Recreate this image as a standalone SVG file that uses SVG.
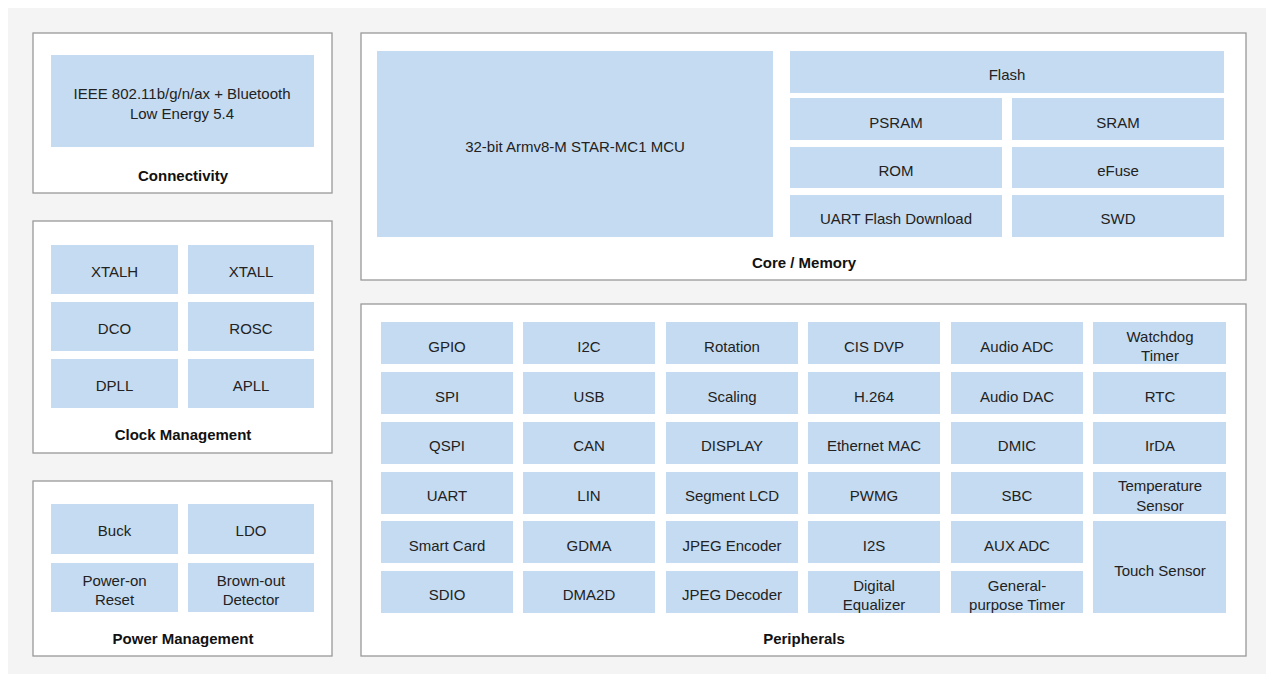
<svg xmlns="http://www.w3.org/2000/svg" width="1274" height="682" viewBox="0 0 1274 682">
<style>
.g{fill:#fff;stroke:#999;stroke-width:1.3}
.b{fill:#c5dbf1}
text{font-family:"Liberation Sans",Arial,sans-serif;font-size:15px;fill:#222;text-anchor:middle;dominant-baseline:central}
.t{font-weight:bold;fill:#111}
</style>
<rect width="1274" height="682" fill="#fff"/>
<rect x="8" y="8" width="1258" height="666" fill="#f4f4f4"/>
<g id="connectivity"><rect class="g" x="33" y="33" width="299" height="160"/>
<rect class="b" x="51" y="55" width="263" height="92"/>
<text x="182" y="93">IEEE 802.11b/g/n/ax + Bluetooth</text><text x="182" y="113">Low Energy 5.4</text>
<text class="t" x="183" y="175">Connectivity</text></g>
<g id="clock"><rect class="g" x="33" y="221" width="299" height="232"/>
<rect class="b" x="51" y="245" width="127" height="49"/><text x="114.5" y="271">XTALH</text>
<rect class="b" x="188" y="245" width="126" height="49"/><text x="251" y="271">XTALL</text>
<rect class="b" x="51" y="302" width="127" height="49"/><text x="114.5" y="328">DCO</text>
<rect class="b" x="188" y="302" width="126" height="49"/><text x="251" y="328">ROSC</text>
<rect class="b" x="51" y="359" width="127" height="49"/><text x="114.5" y="385">DPLL</text>
<rect class="b" x="188" y="359" width="126" height="49"/><text x="251" y="385">APLL</text>
<text class="t" x="183" y="434">Clock Management</text></g>
<g id="power"><rect class="g" x="33" y="481" width="299" height="175"/>
<rect class="b" x="51" y="504" width="127" height="50"/><text x="114.5" y="530">Buck</text>
<rect class="b" x="188" y="504" width="126" height="50"/><text x="251" y="530">LDO</text>
<rect class="b" x="51" y="563" width="127" height="49"/><text x="114.5" y="580">Power-on</text><text x="114.5" y="599">Reset</text>
<rect class="b" x="188" y="563" width="126" height="49"/><text x="251" y="580">Brown-out</text><text x="251" y="599">Detector</text>
<text class="t" x="183" y="638">Power Management</text></g>
<g id="core"><rect class="g" x="361" y="33" width="885" height="247"/>
<rect class="b" x="377" y="51" width="396" height="186"/><text x="575" y="146">32-bit Armv8-M STAR-MC1 MCU</text>
<rect class="b" x="790" y="51" width="434" height="42"/><text x="1007" y="74">Flash</text>
<rect class="b" x="790" y="98" width="212" height="42"/><text x="896" y="122">PSRAM</text>
<rect class="b" x="1012" y="98" width="212" height="42"/><text x="1118" y="122">SRAM</text>
<rect class="b" x="790" y="147" width="212" height="41"/><text x="896" y="170">ROM</text>
<rect class="b" x="1012" y="147" width="212" height="41"/><text x="1118" y="170">eFuse</text>
<rect class="b" x="790" y="195" width="212" height="42"/><text x="896" y="218">UART Flash Download</text>
<rect class="b" x="1012" y="195" width="212" height="42"/><text x="1118" y="218">SWD</text>
<text class="t" x="804" y="262">Core / Memory</text></g>
<g id="peripherals"><rect class="g" x="361" y="304" width="885" height="352"/>
<g>
<rect class="b" x="381" y="322" width="132" height="42"/><text x="447" y="346">GPIO</text>
<rect class="b" x="523" y="322" width="132" height="42"/><text x="589" y="346">I2C</text>
<rect class="b" x="666" y="322" width="132" height="42"/><text x="732" y="346">Rotation</text>
<rect class="b" x="808" y="322" width="132" height="42"/><text x="874" y="346">CIS DVP</text>
<rect class="b" x="951" y="322" width="132" height="42"/><text x="1017" y="346">Audio ADC</text>
<rect class="b" x="1093" y="322" width="133" height="42"/><text x="1160" y="336">Watchdog</text><text x="1160" y="355">Timer</text>
<rect class="b" x="381" y="372" width="132" height="42"/><text x="447" y="396">SPI</text>
<rect class="b" x="523" y="372" width="132" height="42"/><text x="589" y="396">USB</text>
<rect class="b" x="666" y="372" width="132" height="42"/><text x="732" y="396">Scaling</text>
<rect class="b" x="808" y="372" width="132" height="42"/><text x="874" y="396">H.264</text>
<rect class="b" x="951" y="372" width="132" height="42"/><text x="1017" y="396">Audio DAC</text>
<rect class="b" x="1093" y="372" width="133" height="42"/><text x="1160" y="396">RTC</text>
<rect class="b" x="381" y="422" width="132" height="42"/><text x="447" y="445">QSPI</text>
<rect class="b" x="523" y="422" width="132" height="42"/><text x="589" y="445">CAN</text>
<rect class="b" x="666" y="422" width="132" height="42"/><text x="732" y="445">DISPLAY</text>
<rect class="b" x="808" y="422" width="132" height="42"/><text x="874" y="445">Ethernet MAC</text>
<rect class="b" x="951" y="422" width="132" height="42"/><text x="1017" y="445">DMIC</text>
<rect class="b" x="1093" y="422" width="133" height="42"/><text x="1160" y="445">IrDA</text>
<rect class="b" x="381" y="472" width="132" height="42"/><text x="447" y="495">UART</text>
<rect class="b" x="523" y="472" width="132" height="42"/><text x="589" y="495">LIN</text>
<rect class="b" x="666" y="472" width="132" height="42"/><text x="732" y="495">Segment LCD</text>
<rect class="b" x="808" y="472" width="132" height="42"/><text x="874" y="495">PWMG</text>
<rect class="b" x="951" y="472" width="132" height="42"/><text x="1017" y="495">SBC</text>
<rect class="b" x="1093" y="472" width="133" height="42"/><text x="1160" y="485">Temperature</text><text x="1160" y="505">Sensor</text>
<rect class="b" x="381" y="521" width="132" height="42"/><text x="447" y="545">Smart Card</text>
<rect class="b" x="523" y="521" width="132" height="42"/><text x="589" y="545">GDMA</text>
<rect class="b" x="666" y="521" width="132" height="42"/><text x="732" y="545">JPEG Encoder</text>
<rect class="b" x="808" y="521" width="132" height="42"/><text x="874" y="545">I2S</text>
<rect class="b" x="951" y="521" width="132" height="42"/><text x="1017" y="545">AUX ADC</text>
<rect class="b" x="1093" y="521" width="133" height="92"/><text x="1160" y="570">Touch Sensor</text>
<rect class="b" x="381" y="571" width="132" height="42"/><text x="447" y="594">SDIO</text>
<rect class="b" x="523" y="571" width="132" height="42"/><text x="589" y="594">DMA2D</text>
<rect class="b" x="666" y="571" width="132" height="42"/><text x="732" y="594">JPEG Decoder</text>
<rect class="b" x="808" y="571" width="132" height="42"/><text x="874" y="585">Digital</text><text x="874" y="604">Equalizer</text>
<rect class="b" x="951" y="571" width="132" height="42"/><text x="1017" y="585">General-</text><text x="1017" y="604">purpose Timer</text>
</g>
<text class="t" x="804" y="638">Peripherals</text></g>
<g id="connectors"/>
</svg>
